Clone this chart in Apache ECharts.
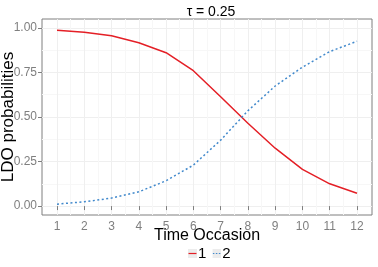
<!DOCTYPE html>
<html><head><meta charset="utf-8">
<script src="https://cdn.jsdelivr.net/npm/echarts@6/dist/echarts.min.js"></script>
<style>html,body{margin:0;padding:0;background:#fff}#c{width:378px;height:267px}</style>
</head><body><div id="c"></div>
<script>
const occasions = [1,2,3,4,5,6,7,8,9,10,11,12];
const series1 = [0.987,0.976,0.956,0.917,0.861,0.76,0.614,0.465,0.325,0.206,0.125,0.072];
const series2 = [0.011,0.024,0.045,0.08,0.142,0.23,0.37,0.535,0.674,0.78,0.867,0.925];
const yTicks = [0, 0.25, 0.5, 0.75, 1];
const yMinor = [0.125, 0.375, 0.625, 0.875];
const xMinor = [1.5,2.5,3.5,4.5,5.5,6.5,7.5,8.5,9.5,10.5,11.5];
const yLabels = ['0.00','0.25','0.50','0.75','1.00'];

const RED = '#e41f26', BLUE = '#4189cc';
function keyIcon(color, dashed){
  const line = dashed
    ? `<line x1="1" y1="9" x2="17" y2="9" stroke="${color}" stroke-width="2.4" stroke-dasharray="3,3"/>`
    : `<line x1="1" y1="9" x2="17" y2="9" stroke="${color}" stroke-width="2.4"/>`;
  const svg = `<svg xmlns="http://www.w3.org/2000/svg" width="18" height="18"><rect x="0" y="0" width="18" height="18" fill="#ececec"/>${line}</svg>`;
  return 'image://data:image/svg+xml;charset=utf-8,' + encodeURIComponent(svg);
}

const chart = echarts.init(document.getElementById('c'), null, {renderer:'canvas'});
const font = 'Liberation Sans, Arial, sans-serif';
chart.setOption({
  animation:false,
  title:{text:'\u03c4 = 0.25', left:206, top:0, textAlign:'center', textStyle:{fontFamily:font, fontSize:14, fontWeight:'normal', color:'#000'}},
  grid:{left:42, right:6, top:19, bottom:52, show:true, borderColor:'#7f7f7f', borderWidth:1, backgroundColor:'#fff', containLabel:false, outerBoundsMode:'none'},
  legend:{
    data:[{name:'1', icon:keyIcon(RED,false)},{name:'2', icon:keyIcon(BLUE,true)}],
    left:188, top:246, itemWidth:9, itemHeight:9, itemGap:6, padding:0,
    textStyle:{fontFamily:font, fontSize:15, color:'#000', padding:[0,0,0,-4]},
    selectedMode:false
  },
  xAxis:[
    {type:'value', min:0.45, max:12.55,
      name:'Time Occasion', nameLocation:'middle', nameGap:13, nameMoveOverlap:false,
      nameTextStyle:{fontFamily:font, fontSize:16, color:'#000'},
      axisLine:{show:false},
      axisTick:{show:true, length:4, lineStyle:{color:'#7f7f7f'}, customValues:occasions},
      axisLabel:{fontFamily:font, fontSize:12, color:'#7f7f7f', margin:6, customValues:occasions, formatter:v=>String(v)},
      splitLine:{show:true, lineStyle:{color:'#efefef', width:1}}
    },
    {type:'value', min:0.45, max:12.55, position:'bottom',
      axisLine:{show:false}, axisLabel:{show:false},
      axisTick:{show:false, customValues:xMinor},
      splitLine:{show:true, lineStyle:{color:'#f7f7f7', width:1}}
    }
  ],
  yAxis:[
    {type:'value', min:-0.05, max:1.05,
      name:'LDO probabilities', nameLocation:'middle', nameGap:25, nameMoveOverlap:false,
      nameTextStyle:{fontFamily:font, fontSize:17, color:'#000'},
      axisLine:{show:false},
      axisTick:{show:true, length:4, lineStyle:{color:'#7f7f7f'}, customValues:yTicks},
      axisLabel:{fontFamily:font, fontSize:12, color:'#7f7f7f', margin:5, customValues:yTicks,
        formatter:v=>{const i=yTicks.findIndex(t=>Math.abs(t-v)<1e-6);return i>=0?yLabels[i]:'';}},
      splitLine:{show:true, lineStyle:{color:'#efefef', width:1}}
    },
    {type:'value', min:-0.05, max:1.05, position:'left',
      axisLine:{show:false}, axisLabel:{show:false},
      axisTick:{show:false, customValues:yMinor},
      splitLine:{show:true, lineStyle:{color:'#f7f7f7', width:1}}
    }
  ],
  series:[
    {name:'1', type:'line', xAxisIndex:0, yAxisIndex:0, showSymbol:false, symbol:'none',
      data:occasions.map((x,i)=>[x,series1[i]]),
      lineStyle:{color:RED, width:1.5, type:'solid'}, itemStyle:{color:RED}},
    {name:'2', type:'line', xAxisIndex:0, yAxisIndex:0, showSymbol:false, symbol:'none',
      data:occasions.map((x,i)=>[x,series2[i]]),
      lineStyle:{color:BLUE, width:1.5, type:[2,2.5]}, itemStyle:{color:BLUE}}
  ]
});
</script></body></html>
